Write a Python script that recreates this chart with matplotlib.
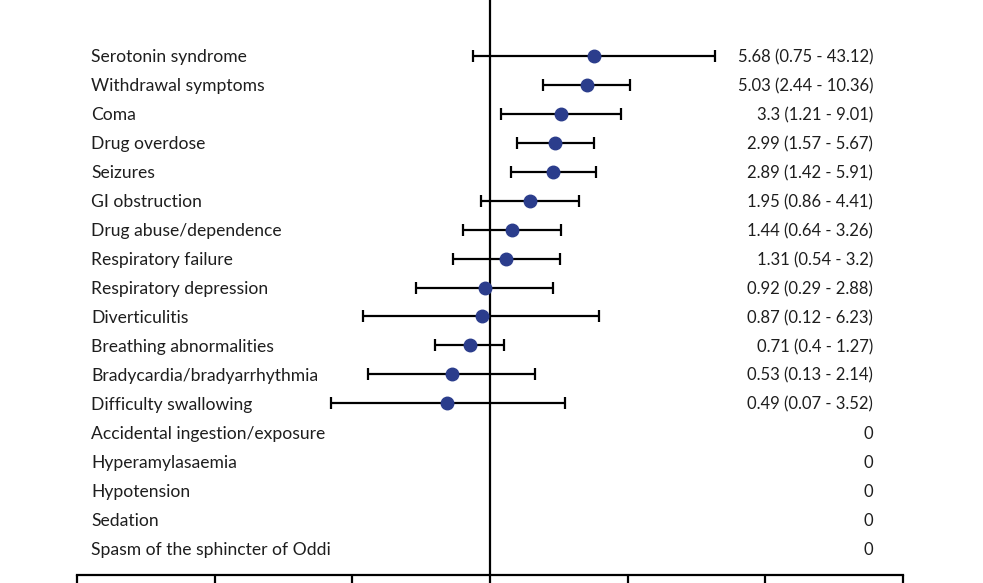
import matplotlib.pyplot as plt
import numpy as np

# Reporting odds ratios with 95% CI per adverse event
events = ['Serotonin syndrome', 'Withdrawal symptoms', 'Coma', 'Drug overdose',
          'Seizures', 'GI obstruction', 'Drug abuse/dependence', 'Respiratory failure',
          'Respiratory depression', 'Diverticulitis', 'Breathing abnormalities',
          'Bradycardia/bradyarrhythmia', 'Difficulty swallowing',
          'Accidental ingestion/exposure', 'Hyperamylasaemia', 'Hypotension',
          'Sedation', 'Spasm of the sphincter of Oddi']
ror = [5.68, 5.03, 3.3, 2.99, 2.89, 1.95, 1.44, 1.31, 0.92, 0.87, 0.71, 0.53, 0.49,
       0, 0, 0, 0, 0]
ci_low = [0.75, 2.44, 1.21, 1.57, 1.42, 0.86, 0.64, 0.54, 0.29, 0.12, 0.4, 0.13, 0.07,
          0, 0, 0, 0, 0]
ci_high = [43.12, 10.36, 9.01, 5.67, 5.91, 4.41, 3.26, 3.2, 2.88, 6.23, 1.27, 2.14, 3.52,
           0, 0, 0, 0, 0]

plt.rcParams['font.family'] = ['Lato', 'DejaVu Sans']

fig = plt.figure(figsize=(9.83, 5.83), dpi=100)
ax = fig.add_axes([77/983, 8/583, 826/983, 575/583])

ror = np.array(ror, dtype=float)
lo = np.array(ci_low, dtype=float)
hi = np.array(ci_high, dtype=float)
rows = np.arange(len(events))
has = ror > 0

ax.errorbar(ror[has], rows[has], xerr=[ror[has] - lo[has], hi[has] - ror[has]],
            fmt='o', color='#2b3d8c', markersize=9, ecolor='black', elinewidth=1.6,
            capsize=4, capthick=1.6, zorder=3)
ax.axvline(1, color='black', lw=1.6, zorder=2)

ax.set_xscale('log')
ax.set_xlim(0.001, 1000)
ax.set_ylim(17.93, -1.93)

trans = ax.get_yaxis_transform()
for i, name in enumerate(events):
    ax.text(0.017, i, name, transform=trans, ha='left', va='center_baseline',
            fontsize=12.6, color='#1e1e1e')
    if ror[i] > 0:
        txt = f'{ror[i]:g} ({lo[i]:g} - {hi[i]:g})'
    else:
        txt = '0'
    ax.text(0.9637, i, txt, transform=trans, ha='right', va='center_baseline',
            fontsize=12, color='#1e1e1e')

for s in ['top', 'right', 'left']:
    ax.spines[s].set_visible(False)
ax.spines['bottom'].set_linewidth(1.6)
ax.set_yticks([])
ax.set_xticks([0.001, 0.01, 0.1, 1, 10, 100, 1000])
ax.xaxis.set_minor_locator(plt.NullLocator())
ax.tick_params(axis='x', length=8, width=1.6, labelbottom=False)

fig.savefig('out.png', dpi=100)
